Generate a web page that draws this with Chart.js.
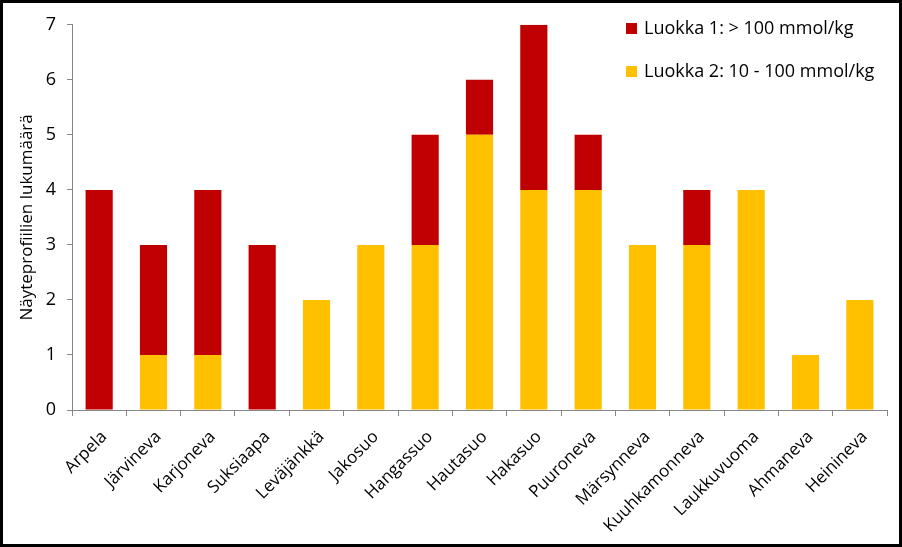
<!DOCTYPE html>
<html><head><meta charset="utf-8">
<script src="https://cdn.jsdelivr.net/npm/chart.js@4/dist/chart.umd.min.js"></script>
<style>
html,body{margin:0;padding:0;background:#fff;}
#wrap{width:902px;height:547px;box-sizing:border-box;border:3px solid #000;position:relative;background:#fff;}
canvas{display:block;}
</style></head><body>
<div id="wrap"><canvas id="c" width="896" height="541"></canvas></div>
<script>
const categories = ["Arpela","Järvineva","Karjoneva","Suksiaapa","Leväjänkkä","Jakosuo","Hangassuo","Hautasuo","Hakasuo","Puuroneva","Märsynneva","Kuuhkamonneva","Laukkuvuoma","Ahmaneva","Heinineva"];
const luokka2 = [0,1,1,0,2,3,3,5,4,4,3,3,4,1,2];
const luokka1 = [4,2,3,3,0,0,2,1,3,1,0,1,0,0,0];
const seriesNames = ["Luokka 1: > 100 mmol/kg","Luokka 2: 10 - 100 mmol/kg"];
const yTitle = "Näyteprofiilien lukumäärä";

const FONT = '"Open Sans", "Noto Sans", sans-serif';
const AX = '#868686';

const legendPlugin = {
  id:'customLegend',
  afterDraw(chart){
    const ctx = chart.ctx;
    const items = [chart.data.datasets[1], chart.data.datasets[0]];
    ctx.save();
    ctx.font = '18px ' + FONT;
    ctx.textBaseline = 'middle';
    ctx.textAlign = 'left';
    let x = 623, y = 25;
    items.forEach((ds,i)=>{
      ctx.fillStyle = ds.backgroundColor;
      ctx.fillRect(x, y + i*43 - 5, 11, 11);
      ctx.fillStyle = '#000';
      ctx.fillText(ds.label, x + 18, y + i*43 + 1);
    });
    ctx.restore();
  }
};

new Chart(document.getElementById('c'), {
  type:'bar',
  data:{
    labels:categories,
    datasets:[
      {label:seriesNames[1], data:luokka2, backgroundColor:'#FFC000', stack:'s'},
      {label:seriesNames[0], data:luokka1, backgroundColor:'#C00000', stack:'s'}
    ]
  },
  options:{
    responsive:false,
    animation:false,
    layout:{padding:{top:21,right:12,left:0,bottom:0}},
    plugins:{legend:{display:false}, tooltip:{enabled:false}},
    datasets:{bar:{barPercentage:0.5, categoryPercentage:1}},
    scales:{
      x:{
        stacked:true,
        grid:{display:true, drawOnChartArea:false, tickLength:6, color:AX, offset:true},
        border:{color:AX},
        ticks:{color:'#000', font:{family:FONT,size:17}, maxRotation:45, minRotation:45, padding:11, labelOffset:5},
        afterFit(s){ s.height = 134; }
      },
      y:{
        stacked:true, min:0, max:7,
        grid:{display:true, drawOnChartArea:false, tickLength:5, color:AX},
        border:{color:AX},
        ticks:{stepSize:1, color:'#000', font:{family:FONT,size:18}, padding:11},
        title:{display:true, text:yTitle, color:'#000', font:{family:FONT,size:17}, padding:{top:14,bottom:0}},
        afterFit(s){ s.width = 69; }
      }
    }
  },
  plugins:[legendPlugin]
});
</script>
</body></html>
